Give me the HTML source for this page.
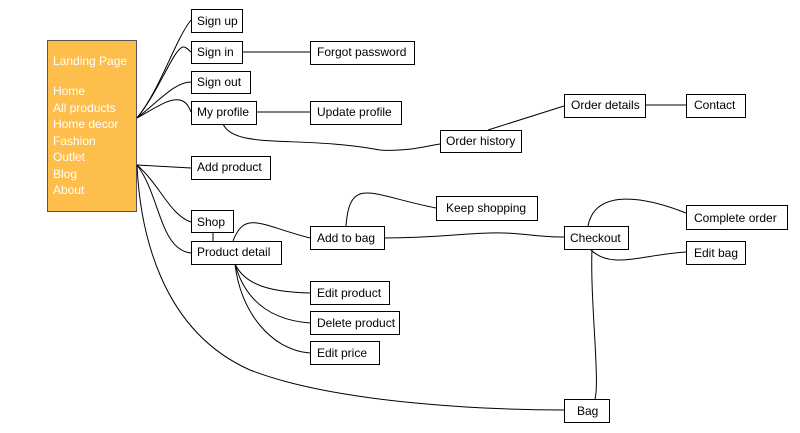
<!DOCTYPE html>
<html><head><style>
body{margin:0;background:#fff;}
svg{display:block;font-family:"Liberation Sans",sans-serif;}
.b{fill:#fff;stroke:#000;stroke-width:1;}
.t{font-size:12px;fill:#000;}
.l{fill:none;stroke:#000;stroke-width:1;}
</style></head><body>
<svg width="800" height="433" viewBox="0 0 800 433">
<rect x="47.5" y="40.5" width="89" height="171" fill="#fdbe4b" stroke="#555"/>
<g fill="#fff" font-size="12">
<text x="53" y="65">Landing Page</text>
<text x="53" y="95">Home</text>
<text x="53" y="112">All products</text>
<text x="53" y="128">Home decor</text>
<text x="53" y="145">Fashion</text>
<text x="53" y="161">Outlet</text>
<text x="53" y="178">Blog</text>
<text x="53" y="194">About</text>
</g>
<g class="l">
<path d="M137 118 C160 90 175 40 191 20"/>
<path d="M137 118 C160 90 175 45 184 47 C188 48 189 51 191 52"/>
<path d="M137 118 C160 100 175 82 191 82"/>
<path d="M137 118 C160 105 170 98 180 100 C188 102 190 110 191 112"/>
<path d="M137 165 L191 168"/>
<path d="M137 165 C160 185 170 215 191 222"/>
<path d="M137 165 C160 195 160 250 191 253"/>
<path d="M137 165 C140 230 160 330 250 370 C340 405 500 410 564 410"/>
<path d="M242 52 L310 52"/>
<path d="M256 112 L310 112"/>
<path d="M223 124 C235 150 300 135 380 150 C410 152 430 145 440 144"/>
<path d="M488 130 L564 106"/>
<path d="M645 105 L686 105"/>
<path d="M213 232 L213 241"/>
<path d="M233 241 C245 210 260 225 310 238"/>
<path d="M346 226 C350 175 370 195 436 208"/>
<path d="M384 238 C450 238 480 230 520 234 C540 236 550 237 564 237"/>
<path d="M588 226 C595 190 640 195 686 213"/>
<path d="M590 249 C610 270 640 255 686 252"/>
<path d="M592 249 C590 300 600 380 595 399"/>
<path d="M235 264 C245 285 270 292 310 293"/>
<path d="M235 264 C245 300 270 320 310 323"/>
<path d="M235 264 C240 310 270 350 310 353"/>
</g>
<rect class="b" x="191.5" y="9.5" width="51" height="23"/><text class="t" x="197" y="25">Sign up</text>
<rect class="b" x="191.5" y="41.5" width="51" height="22"/><text class="t" x="197" y="56">Sign in</text>
<rect class="b" x="191.5" y="71.5" width="59" height="22"/><text class="t" x="197" y="86">Sign out</text>
<rect class="b" x="191.5" y="101.5" width="65" height="23"/><text class="t" x="197" y="116">My profile</text>
<rect class="b" x="191.5" y="156.5" width="79" height="23"/><text class="t" x="197" y="171">Add product</text>
<rect class="b" x="191.5" y="210.5" width="42" height="22"/><text class="t" x="197" y="226">Shop</text>
<rect class="b" x="191.5" y="241.5" width="90" height="23"/><text class="t" x="197" y="256">Product detail</text>
<rect class="b" x="310.5" y="41.5" width="104" height="23"/><text class="t" x="317" y="56">Forgot password</text>
<rect class="b" x="310.5" y="101.5" width="91" height="23"/><text class="t" x="317" y="116">Update profile</text>
<rect class="b" x="440.5" y="130.5" width="81" height="22"/><text class="t" x="446" y="145">Order history</text>
<rect class="b" x="564.5" y="94.5" width="81" height="23"/><text class="t" x="571" y="109">Order details</text>
<rect class="b" x="686.5" y="94.5" width="59" height="23"/><text class="t" x="694" y="109">Contact</text>
<rect class="b" x="436.5" y="196.5" width="101" height="24"/><text class="t" x="446" y="212">Keep shopping</text>
<rect class="b" x="310.5" y="226.5" width="74" height="23"/><text class="t" x="317" y="242">Add to bag</text>
<rect class="b" x="564.5" y="226.5" width="64" height="23"/><text class="t" x="570" y="242">Checkout</text>
<rect class="b" x="686.5" y="205.5" width="101" height="24"/><text class="t" x="694" y="222">Complete order</text>
<rect class="b" x="686.5" y="241.5" width="59" height="23"/><text class="t" x="694" y="257">Edit bag</text>
<rect class="b" x="310.5" y="281.5" width="79" height="23"/><text class="t" x="317" y="297">Edit product</text>
<rect class="b" x="310.5" y="311.5" width="89" height="23"/><text class="t" x="317" y="327">Delete product</text>
<rect class="b" x="310.5" y="341.5" width="69" height="23"/><text class="t" x="317" y="357">Edit price</text>
<rect class="b" x="564.5" y="399.5" width="45" height="23"/><text class="t" x="577" y="415">Bag</text>
</svg>
</body></html>
